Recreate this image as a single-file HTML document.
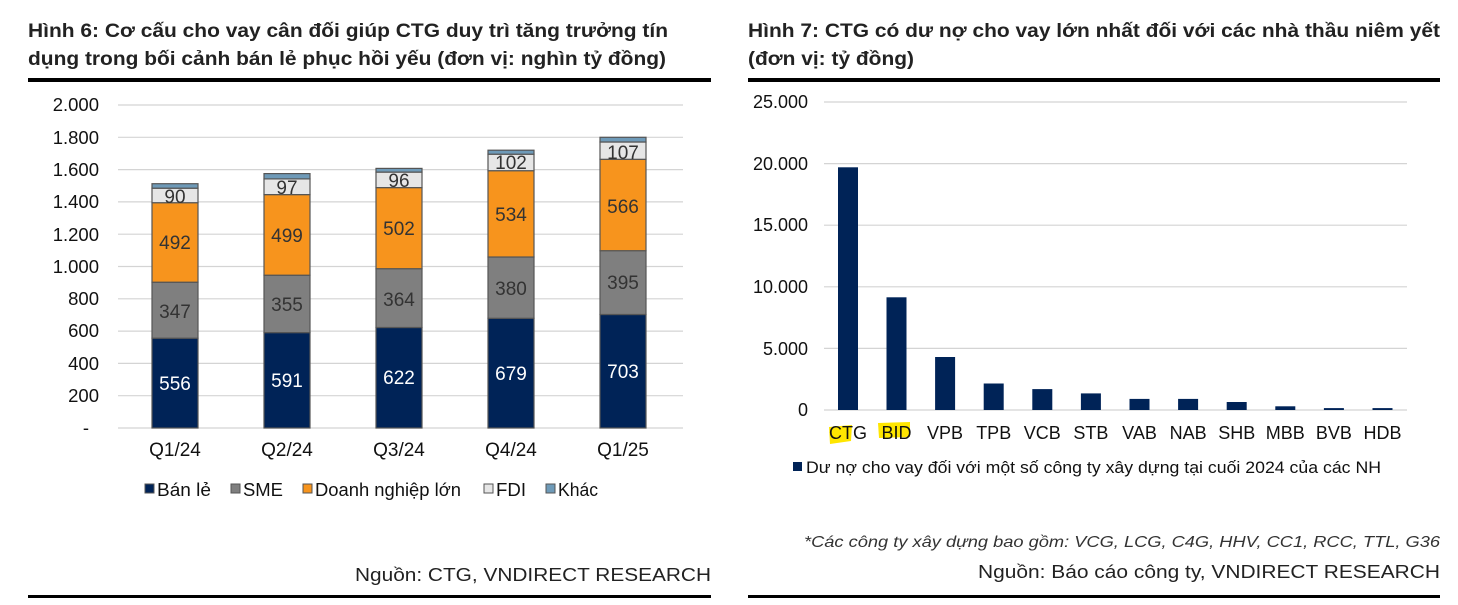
<!DOCTYPE html>
<html><head><meta charset="utf-8"><style>
html,body{margin:0;padding:0;background:#fff}
svg{display:block;font-family:"Liberation Sans",Arial,sans-serif}
</style></head><body>
<svg width="1458" height="605" viewBox="0 0 1458 605" xmlns="http://www.w3.org/2000/svg">
<g font-weight="bold" font-size="19" fill="#222">
<text x="28" y="37" textLength="640" lengthAdjust="spacingAndGlyphs">Hình 6: Cơ cấu cho vay cân đối giúp CTG duy trì tăng trưởng tín</text>
<text x="28" y="65" textLength="638" lengthAdjust="spacingAndGlyphs">dụng trong bối cảnh bán lẻ phục hồi yếu (đơn vị: nghìn tỷ đồng)</text>
<text x="748" y="37" textLength="692" lengthAdjust="spacingAndGlyphs">Hình 7: CTG có dư nợ cho vay lớn nhất đối với các nhà thầu niêm yết</text>
<text x="748" y="65" textLength="166" lengthAdjust="spacingAndGlyphs">(đơn vị: tỷ đồng)</text>
</g>
<rect x="28" y="78" width="683" height="4" fill="#000"/>
<rect x="748" y="78" width="692" height="4" fill="#000"/>
<rect x="28" y="595" width="683" height="3" fill="#000"/>
<rect x="748" y="595" width="692" height="3" fill="#000"/>

<g stroke="#d4d4d4" stroke-width="1.2">
<line x1="118" x2="683" y1="105" y2="105"/><line x1="118" x2="683" y1="137.3" y2="137.3"/>
<line x1="118" x2="683" y1="169.6" y2="169.6"/><line x1="118" x2="683" y1="201.9" y2="201.9"/>
<line x1="118" x2="683" y1="234.2" y2="234.2"/><line x1="118" x2="683" y1="266.5" y2="266.5"/>
<line x1="118" x2="683" y1="298.8" y2="298.8"/><line x1="118" x2="683" y1="331.1" y2="331.1"/>
<line x1="118" x2="683" y1="363.4" y2="363.4"/><line x1="118" x2="683" y1="395.7" y2="395.7"/>
<line x1="118" x2="683" y1="428" y2="428"/>
</g>
<g font-size="18.5" fill="#111" text-anchor="end">
<text x="99" y="111">2.000</text><text x="99" y="144">1.800</text><text x="99" y="176">1.600</text>
<text x="99" y="208">1.400</text><text x="99" y="241">1.200</text><text x="99" y="273">1.000</text>
<text x="99" y="305">800</text><text x="99" y="337">600</text><text x="99" y="370">400</text>
<text x="99" y="402">200</text><text x="89" y="434">-</text>
</g>
<g stroke="#555" stroke-width="1.2">
<rect x="152" y="338.2" width="46" height="89.8" fill="#002357"/>
<rect x="152" y="282.2" width="46" height="56.0" fill="#7f7f7f"/>
<rect x="152" y="202.7" width="46" height="79.5" fill="#f7941d"/>
<rect x="152" y="188.2" width="46" height="14.5" fill="#e6e6e6"/>
<rect x="152" y="183.7" width="46" height="4.5" fill="#6e9ab8"/>
<rect x="264" y="332.6" width="46" height="95.4" fill="#002357"/>
<rect x="264" y="275.2" width="46" height="57.4" fill="#7f7f7f"/>
<rect x="264" y="194.6" width="46" height="80.6" fill="#f7941d"/>
<rect x="264" y="178.9" width="46" height="15.7" fill="#e6e6e6"/>
<rect x="264" y="173.6" width="46" height="5.3" fill="#6e9ab8"/>
<rect x="376" y="327.5" width="46" height="100.5" fill="#002357"/>
<rect x="376" y="268.7" width="46" height="58.8" fill="#7f7f7f"/>
<rect x="376" y="187.6" width="46" height="81.1" fill="#f7941d"/>
<rect x="376" y="172.1" width="46" height="15.5" fill="#e6e6e6"/>
<rect x="376" y="168.4" width="46" height="3.7" fill="#6e9ab8"/>
<rect x="488" y="318.3" width="46" height="109.7" fill="#002357"/>
<rect x="488" y="257.0" width="46" height="61.3" fill="#7f7f7f"/>
<rect x="488" y="170.7" width="46" height="86.3" fill="#f7941d"/>
<rect x="488" y="154.2" width="46" height="16.5" fill="#e6e6e6"/>
<rect x="488" y="150.2" width="46" height="4.0" fill="#6e9ab8"/>
<rect x="600" y="314.5" width="46" height="113.5" fill="#002357"/>
<rect x="600" y="250.7" width="46" height="63.8" fill="#7f7f7f"/>
<rect x="600" y="159.3" width="46" height="91.4" fill="#f7941d"/>
<rect x="600" y="142.0" width="46" height="17.3" fill="#e6e6e6"/>
<rect x="600" y="137.3" width="46" height="4.7" fill="#6e9ab8"/>
</g>
<g font-size="19" text-anchor="middle">
<g fill="#fff"><text x="175" y="390">556</text><text x="287" y="387">591</text><text x="399" y="384">622</text><text x="511" y="380">679</text><text x="623" y="378">703</text></g>
<g fill="#333"><text x="175" y="318">347</text><text x="287" y="311">355</text><text x="399" y="306">364</text><text x="511" y="295">380</text><text x="623" y="289">395</text>
<text x="175" y="249">492</text><text x="287" y="242">499</text><text x="399" y="235">502</text><text x="511" y="221">534</text><text x="623" y="213">566</text>
<text x="175" y="203">90</text><text x="287" y="194">97</text><text x="399" y="187">96</text><text x="511" y="169">102</text><text x="623" y="159">107</text></g>
<g fill="#111"><text x="175" y="456">Q1/24</text><text x="287" y="456">Q2/24</text><text x="399" y="456">Q3/24</text><text x="511" y="456">Q4/24</text><text x="623" y="456">Q1/25</text></g>
</g>
<g stroke="#555" stroke-width="1">
<rect x="145" y="484" width="9" height="9" fill="#002357"/>
<rect x="231" y="484" width="9" height="9" fill="#7f7f7f"/>
<rect x="303" y="484" width="9" height="9" fill="#f7941d"/>
<rect x="484" y="484" width="9" height="9" fill="#e6e6e6"/>
<rect x="546" y="484" width="9" height="9" fill="#6e9ab8"/>
</g>
<g font-size="18" fill="#111">
<text x="157" y="496" textLength="54" lengthAdjust="spacingAndGlyphs">Bán lẻ</text><text x="243" y="496" textLength="40" lengthAdjust="spacingAndGlyphs">SME</text><text x="315" y="496" textLength="146" lengthAdjust="spacingAndGlyphs">Doanh nghiệp lớn</text><text x="496" y="496" textLength="30" lengthAdjust="spacingAndGlyphs">FDI</text><text x="558" y="496" textLength="40" lengthAdjust="spacingAndGlyphs">Khác</text>
</g>
<text x="711" y="581" font-size="18" fill="#222" text-anchor="end" textLength="356" lengthAdjust="spacingAndGlyphs">Nguồn: CTG, VNDIRECT RESEARCH</text>

<g stroke="#d4d4d4" stroke-width="1.2">
<line x1="824" x2="1407" y1="102" y2="102"/><line x1="824" x2="1407" y1="163.6" y2="163.6"/>
<line x1="824" x2="1407" y1="225.2" y2="225.2"/><line x1="824" x2="1407" y1="286.8" y2="286.8"/>
<line x1="824" x2="1407" y1="348.4" y2="348.4"/><line x1="824" x2="1407" y1="410" y2="410"/>
</g>
<g font-size="18" fill="#111" text-anchor="end">
<text x="808" y="108">25.000</text><text x="808" y="170">20.000</text><text x="808" y="231">15.000</text>
<text x="808" y="293">10.000</text><text x="808" y="355">5.000</text><text x="808" y="416">0</text>
</g>
<g fill="#002357">
<rect x="838" y="167.3" width="20" height="242.7"/>
<rect x="886.5" y="297.3" width="20" height="112.7"/>
<rect x="935.1" y="357.0" width="20" height="53"/>
<rect x="983.7" y="383.5" width="20" height="26.5"/>
<rect x="1032.3" y="389.1" width="20" height="20.9"/>
<rect x="1080.9" y="393.4" width="20" height="16.6"/>
<rect x="1129.5" y="398.9" width="20" height="11.1"/>
<rect x="1178.1" y="398.9" width="20" height="11.1"/>
<rect x="1226.7" y="402.0" width="20" height="8"/>
<rect x="1275.3" y="406.3" width="20" height="3.7"/>
<rect x="1323.9" y="408.1" width="20" height="1.9"/>
<rect x="1372.5" y="408.1" width="20" height="1.9"/>
</g>
<polygon points="829,427 852,425 851,441 830,444" fill="#ffe600"/>
<polygon points="878,423 910,422 910,437 879,438" fill="#ffe600"/>
<g font-size="18" fill="#111" text-anchor="middle">
<text x="848" y="439">CTG</text><text x="896.5" y="439">BID</text><text x="945" y="439">VPB</text><text x="993.7" y="439">TPB</text>
<text x="1042.3" y="439">VCB</text><text x="1090.9" y="439">STB</text><text x="1139.5" y="439">VAB</text><text x="1188.1" y="439">NAB</text>
<text x="1236.7" y="439">SHB</text><text x="1285.3" y="439">MBB</text><text x="1333.9" y="439">BVB</text><text x="1382.5" y="439">HDB</text>
</g>
<rect x="793" y="462" width="9" height="9" fill="#002357"/>
<text x="806" y="473" font-size="17" fill="#111" textLength="575" lengthAdjust="spacingAndGlyphs">Dư nợ cho vay đối với một số công ty xây dựng tại cuối 2024 của các NH</text>
<text x="1440" y="547" font-size="16" font-style="italic" fill="#333" text-anchor="end" textLength="636" lengthAdjust="spacingAndGlyphs">*Các công ty xây dựng bao gồm: VCG, LCG, C4G, HHV, CC1, RCC, TTL, G36</text>
<text x="1440" y="578" font-size="18" fill="#222" text-anchor="end" textLength="462" lengthAdjust="spacingAndGlyphs">Nguồn: Báo cáo công ty, VNDIRECT RESEARCH</text>
</svg>
</body></html>
